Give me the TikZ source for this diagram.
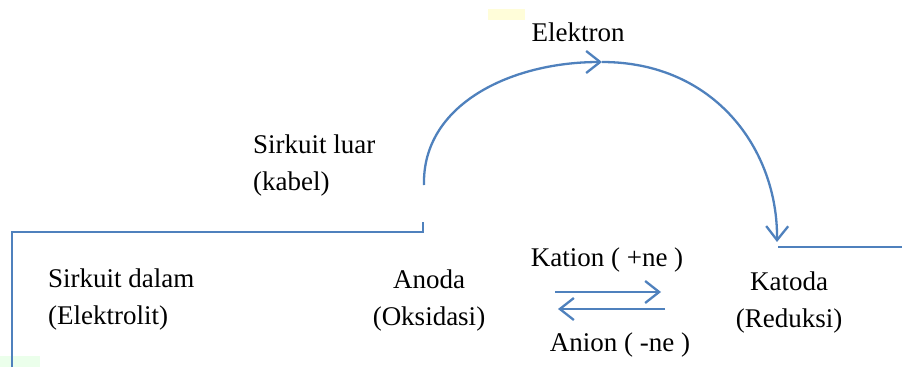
\documentclass[tikz,border=0pt]{standalone}
\usepackage{fontspec}
\setmainfont{Liberation Serif}
\usetikzlibrary{arrows.meta}
\definecolor{wire}{RGB}{79,129,189}
\tikzset{
  wireline/.style={draw=wire, line width=2.3pt},
  barb/.style={-{Straight Barb[length=14pt,width=22pt,line width=2.3pt]}},
  lbl/.style={font=\fontsize{27}{37}\selectfont, align=center, inner sep=0pt, text=black},
}
\begin{document}
\begin{tikzpicture}[x=1pt,y=-1pt]
\useasboundingbox (0,0) rectangle (902,367);
\fill[white] (0,0) rectangle (902,367);
% faint artifacts
\fill[yellow!15] (488,9) rectangle (525,20);
\fill[green!8] (0,356) rectangle (40,367);
% labels
\node[lbl] (elektron) at (578,32) {Elektron};
\node[lbl, anchor=west, align=left] (luar) at (253,166) {Sirkuit luar\\(kabel)};
\node[lbl, anchor=west, align=left] (dalam) at (48,300) {Sirkuit dalam\\(Elektrolit)};
\node[lbl] (anoda) at (429,301) {Anoda\\(Oksidasi)};
\node[lbl] (katoda) at (789,303) {Katoda\\(Reduksi)};
\node[lbl] (kation) at (607,260) {Kation ( +ne )};
\node[lbl] (anion) at (620,345) {Anion ( -ne )};
% circuit coordinates
\coordinate (bl) at (12,367);
\coordinate (tl) at (12,232);
\coordinate (ta) at (423,232);
\coordinate (ua) at (423,222);
\coordinate (arcstart) at (424,185);
\coordinate (arctop) at (602,62);
\coordinate (arcend) at (777,242);
\coordinate (rk) at (778,247);
\coordinate (rr) at (902,247);
\coordinate (k1) at (555,292);
\coordinate (k2) at (661,292);
\coordinate (a1) at (665,309);
\coordinate (a2) at (558,309);
% inner circuit frame
\draw[wireline] (bl) -- (tl) -- (ta) -- (ua);
\draw[wireline] (rk) -- (rr);
% outer circuit arc
\draw[wireline, barb] (arcstart) .. controls (422,105) and (510,62) .. (arctop);
\draw[wireline, barb] (arctop) .. controls (715,62) and (778,150) .. (arcend);
% ion arrows
\draw[wireline, barb] (k1) -- (k2);
\draw[wireline, barb] (a1) -- (a2);
\end{tikzpicture}
\end{document}
